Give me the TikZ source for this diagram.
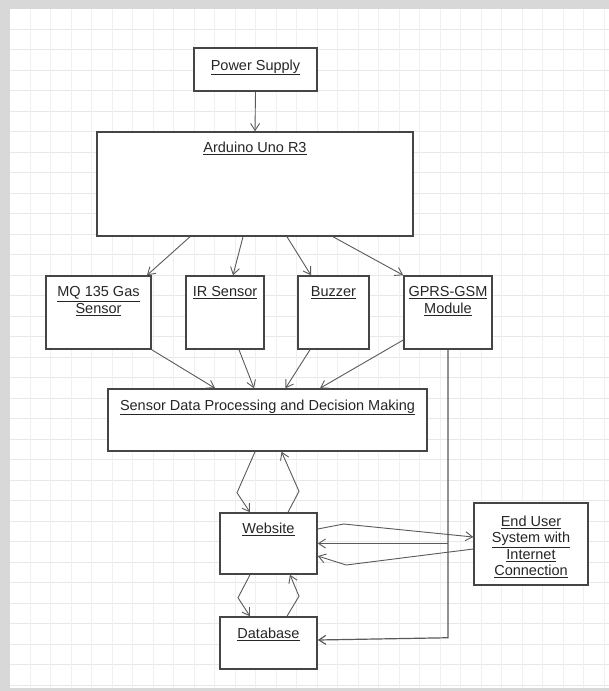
\documentclass[tikz,border=0pt]{standalone}
\usepackage{fontspec}
\setmainfont{Liberation Sans}
\usetikzlibrary{arrows.meta}
\definecolor{edgec}{HTML}{454545}
\definecolor{connc}{HTML}{5A5A5A}
\definecolor{txtc}{HTML}{262626}
\definecolor{gridc}{HTML}{E8E8E8}
\definecolor{gridv}{HTML}{F0F0F0}
\definecolor{bandc}{HTML}{D8D8D8}
\newcommand{\myul}[1]{\underline{#1}}
\begin{document}
\begin{tikzpicture}[x=1pt,y=-1pt,
  box/.style={draw=edgec, line width=1.5pt, fill=white, inner sep=0pt},
  lbl/.style={text=txtc, font=\fontsize{14.5}{16.5}\selectfont, align=center, inner sep=0pt, anchor=north},
  conn/.style={draw=connc, line width=0.9pt, -{Straight Barb[length=7pt,width=9pt]}}]
% background
\useasboundingbox (0,0) rectangle (609,691);
\fill[white] (0,0) rectangle (609,691);
\begin{scope}
\clip (10,9) rectangle (609,688);
\foreach \k in {0,...,32} {\draw[gridc, line width=0.6pt] (10,29+20.5*\k) -- (609,29+20.5*\k);}
\foreach \k in {0,...,28} {\draw[gridv, line width=0.6pt] (30+20.5*\k,9) -- (30+20.5*\k,688);}
\end{scope}
\fill[bandc] (0,0) rectangle (609,9);
\fill[bandc] (0,0) rectangle (10,691);
\fill[bandc] (0,688) rectangle (609,691);

% boxes
\node[box, minimum width=123pt, minimum height=43pt] (ps) at (255.5,69.5) {};
\node[box, minimum width=316pt, minimum height=104pt] (ard) at (255,184) {};
\node[box, minimum width=105pt, minimum height=73pt] (mq) at (98.5,312.5) {};
\node[box, minimum width=78pt, minimum height=73pt] (ir) at (225,312.5) {};
\node[box, minimum width=71pt, minimum height=73pt] (bz) at (333.5,312.5) {};
\node[box, minimum width=88pt, minimum height=73pt] (gsm) at (448,312.5) {};
\node[box, minimum width=319pt, minimum height=62pt] (sdp) at (267.5,420) {};
\node[box, minimum width=97pt, minimum height=61pt] (web) at (268.5,543.5) {};
\node[box, minimum width=97pt, minimum height=52pt] (db) at (268.5,643) {};
\node[box, minimum width=114pt, minimum height=82pt] (eu) at (531,544) {};

% labels
\node[lbl] (pst) at (255.5,59.5) {\myul{Power Supply}};
\node[lbl] (ardt) at (255,142) {\myul{Arduino Uno R3}};
\node[lbl] (mqt) at (98.5,286.5) {\myul{MQ 135 Gas}\\\myul{Sensor}};
\node[lbl] (irt) at (225,286.5) {\myul{IR Sensor}};
\node[lbl] (bzt) at (333.5,286.5) {\myul{Buzzer}};
\node[lbl] (gsmt) at (448,286.5) {\myul{GPRS-GSM}\\\myul{Module}};
\node[lbl] (sdpt) at (267.5,399.5) {\myul{Sensor Data Processing and Decision Making}};
\node[lbl] (webt) at (268.5,522.5) {\myul{Website}};
\node[lbl] (dbt) at (268.5,627.5) {\myul{Database}};
\node[lbl] (eut) at (531,515.5) {\myul{End User}\\\myul{System with}\\\myul{Internet}\\\myul{Connection}};

% connectors
\draw[conn] (ps.south) -- (ard.north);
\draw[conn] ([xshift=-65pt]ard.south) -- ([xshift=48.5pt]mq.north);
\draw[conn] ([xshift=-12pt]ard.south) -- ([xshift=8pt]ir.north);
\draw[conn] ([xshift=32pt]ard.south) -- ([xshift=-22.5pt]bz.north);
\draw[conn] ([xshift=78pt]ard.south) -- (gsm.north west);

\draw[conn] (mq.south east) -- ([xshift=-52.5pt]sdp.north);
\draw[conn] ([xshift=14pt]ir.south) -- ([xshift=-13.5pt]sdp.north);
\draw[conn] ([xshift=-23.5pt]bz.south) -- ([xshift=18pt]sdp.north);
\draw[conn] ([yshift=-27.5pt]gsm.west) -- ([xshift=52.5pt]sdp.north);

\draw[conn] ([xshift=-12.5pt]sdp.south) -- ++(-18,41) -- ([xshift=-18.5pt]web.north);
\draw[conn] ([xshift=19.5pt]web.north) -- ++(11,-21) -- ([xshift=14pt]sdp.south);
\draw[conn] ([xshift=-18.5pt]web.south) -- ++(-12,23) -- ([xshift=-18.5pt]db.north);
\draw[conn] ([xshift=18.5pt]db.north) -- ++(12,-20) -- ([xshift=21.5pt]web.south);

\draw[conn] ([yshift=14.5pt]web.east) -- ++(26,-5) -- ([yshift=7pt]eu.west);
\draw[conn] ([yshift=-5pt]eu.west) -- ++(-127,16) -- ([yshift=-12.5pt]web.east);
\draw[conn, line width=1.2pt] (gsm.south) -- ++(0,288) -- ([yshift=3pt]db.east);
\draw[conn] (gsm.south |- web.east) -- (web.east);
\end{tikzpicture}
\end{document}
